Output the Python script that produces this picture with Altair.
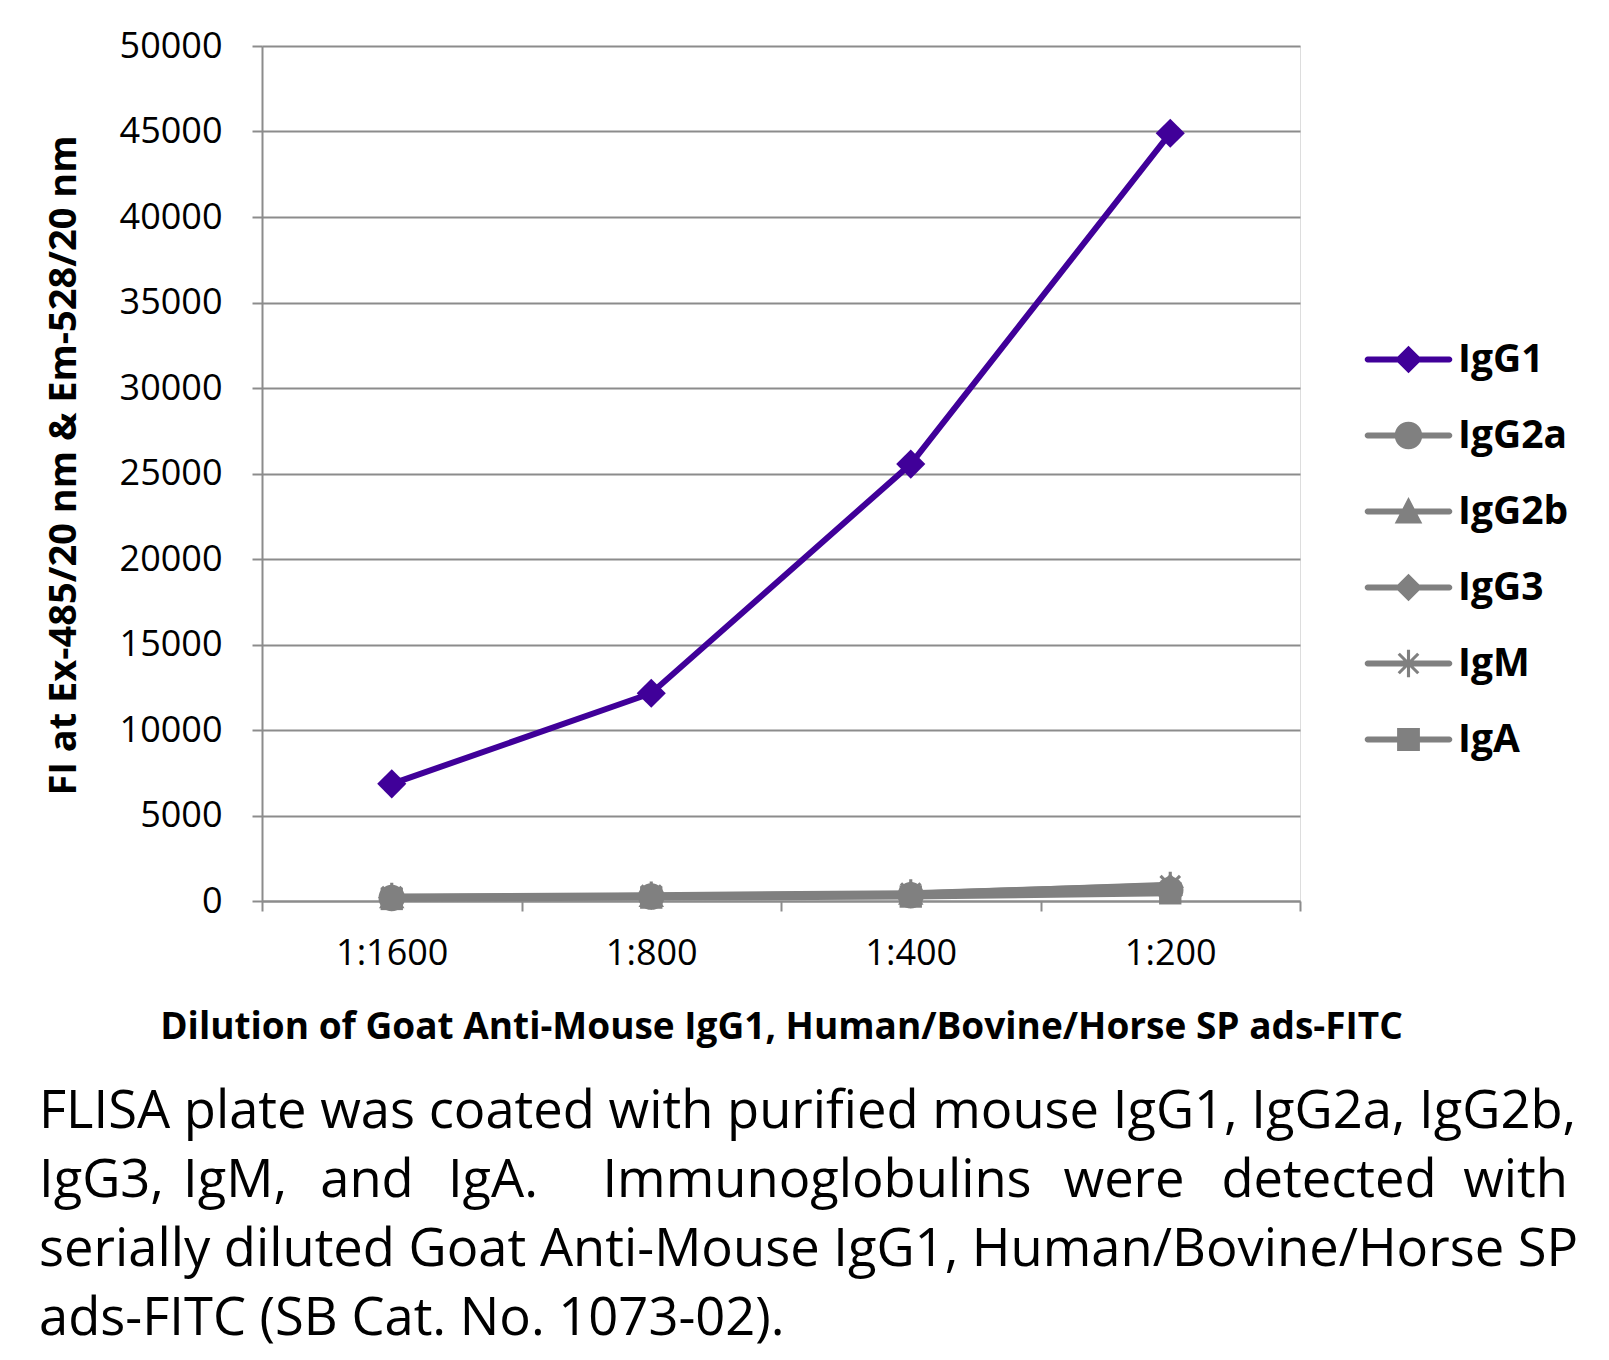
import math
import altair as alt
import pandas as pd

# ---------------- data ----------------
dilutions = ["1:1600", "1:800", "1:400", "1:200"]
series_names = ["IgG1", "IgG2a", "IgG2b", "IgG3", "IgM", "IgA"]
igg1 = [6850, 12150, 25550, 44900]
igg2a = [180, 260, 340, 650]
igg2b = [220, 300, 420, 950]
igg3 = [200, 280, 380, 800]
igm = [260, 340, 460, 900]
iga = [120, 200, 260, 450]
y_ticks = list(range(0, 50001, 5000))

x_title = "Dilution of Goat Anti-Mouse IgG1, Human/Bovine/Horse SP ads-FITC"
y_title = "FI at Ex-485/20 nm & Em-528/20 nm"
caption_line1 = "FLISA plate was coated with purified mouse IgG1, IgG2a, IgG2b,"
caption_line2_words = ["IgG3,", "IgM,", "and", "IgA.", "Immunoglobulins", "were", "detected", "with"]
caption_line3 = "serially diluted Goat Anti-Mouse IgG1, Human/Bovine/Horse SP"
caption_line4 = "ads-FITC (SB Cat. No. 1073-02)."

values = {"IgG1": igg1, "IgG2a": igg2a, "IgG2b": igg2b, "IgG3": igg3, "IgM": igm, "IgA": iga}
rows = []
for s in series_names:
    for d, v in zip(dilutions, values[s]):
        rows.append({"series": s, "dilution": d, "value": v})
df = pd.DataFrame(rows)

# ---------------- styles ----------------
PURPLE = "#400099"
GRAY = "#808080"
AXGRAY = "#8c8c8c"
colors = [PURPLE, GRAY, GRAY, GRAY, GRAY, GRAY]
FONT = "Open Sans"


def rect_path(half_len, half_w, angle_deg):
    a = math.radians(angle_deg)
    ca, sa = math.cos(a), math.sin(a)
    pts = [(-half_len, -half_w), (half_len, -half_w), (half_len, half_w), (-half_len, half_w)]
    rp = [(x * ca - y * sa, x * sa + y * ca) for x, y in pts]
    return "M" + " L".join(f"{x:.3f},{y:.3f}" for x, y in rp) + " Z"


asterisk = rect_path(1.15, 0.13, 90) + " " + rect_path(1.15, 0.13, 45) + " " + rect_path(1.15, 0.13, 135)
bar = "M-3.4,-0.25 L3.4,-0.25 A0.25,0.25 0 0 1 3.4,0.25 L-3.4,0.25 A0.25,0.25 0 0 1 -3.4,-0.25 Z"
m_diamond = "M0,-1.15 L1.15,0 L0,1.15 L-1.15,0 Z"
m_circle = "M-1.15,0 A1.15,1.15 0 0 1 1.15,0 A1.15,1.15 0 0 1 -1.15,0 Z"
m_triangle = "M0,-1.2 L1.15,1.0 L-1.15,1.0 Z"
m_square = "M-0.95,-0.95 L0.95,-0.95 L0.95,0.95 L-0.95,0.95 Z"
legend_paths = [bar + " " + m for m in [m_diamond, m_circle, m_triangle, m_diamond, asterisk, m_square]]

marker_shapes = {"IgG1": "diamond", "IgG2a": "circle", "IgG2b": "triangle-up",
                 "IgG3": "diamond", "IgM": asterisk, "IgA": "square"}
marker_sizes = {"IgG1": 850, "IgG2a": 700, "IgG2b": 650, "IgG3": 750, "IgM": 576, "IgA": 500}

# ---------------- encodings ----------------
x_enc = alt.X(
    "dilution:N", sort=dilutions, bandPosition=0.5,
    scale=alt.Scale(type="band", paddingInner=0, paddingOuter=0),
    axis=alt.Axis(
        title=x_title, titleFont=FONT, titleFontSize=37, titleFontWeight="bold", titleColor="black",
        titleX=519, titleY=137, titleBaseline="alphabetic", titleAlign="center",
        labelFont=FONT, labelFontSize=36, labelColor="black", labelAngle=0, labelPadding=25,
        tickBand="extent", tickSize=10, tickColor=AXGRAY, tickWidth=2,
        domainColor=AXGRAY, domainWidth=2, grid=False,
    ),
)
y_enc = alt.Y(
    "value:Q",
    scale=alt.Scale(domain=[0, 50000], nice=False),
    axis=alt.Axis(
        values=y_ticks, format="d",
        title=y_title, titleFont=FONT,
        titleFontSize=38, titleFontWeight="bold", titleColor="black",
        titleX=-198, titleY=419, titleAngle=-90, titleAlign="center", titleBaseline="middle",
        labelFont=FONT, labelFontSize=36, labelColor="black", labelPadding=30,
        tickSize=10, tickColor=AXGRAY, tickWidth=2, domainColor=AXGRAY, domainWidth=2,
        grid=True, gridColor=AXGRAY, gridWidth=2,
    ),
)

layers = []
# gray lines first, purple on top
for s in series_names[1:] + series_names[:1]:
    sub = df[df["series"] == s]
    c = PURPLE if s == "IgG1" else GRAY
    layers.append(alt.Chart(sub).mark_line(strokeWidth=6, color=c).encode(x=x_enc, y=y_enc))
    layers.append(
        alt.Chart(sub).mark_point(shape=marker_shapes[s], size=marker_sizes[s], filled=True,
                                  opacity=1, color=c, strokeWidth=0).encode(x=x_enc, y=y_enc)
    )

leg = alt.Legend(
    title=None, orient="none", legendX=1127, legendY=294, padding=0,
    symbolSize=576, symbolStrokeWidth=0, labelFont=FONT, labelFontSize=39,
    labelFontWeight="bold", labelColor="black", labelOffset=30, rowPadding=36,
)
legend_layer = alt.Chart(df).transform_filter("false").mark_point(
    filled=True, opacity=1, strokeWidth=0
).encode(
    shape=alt.Shape("series:N", scale=alt.Scale(domain=series_names, range=legend_paths), legend=leg),
    fill=alt.Fill("series:N", scale=alt.Scale(domain=series_names, range=colors), legend=leg),
)
layers.append(legend_layer)


def text_layer(txt, x, y, align="left", size=50):
    return alt.Chart(pd.DataFrame({"t": [txt]})).mark_text(
        align=align, baseline="alphabetic", font=FONT, fontSize=size, color="black"
    ).encode(x=alt.value(x), y=alt.value(y), text="t:N")


CAP = 52.5
layers.append(text_layer(caption_line1, -223, 1082, size=CAP))
word_x = [-223, -27, 105, 231, 555, 862, 1067, 1306]
word_align = ["left", "center", "center", "center", "center", "center", "center", "right"]
for w, wx, wa in zip(caption_line2_words, word_x, word_align):
    layers.append(text_layer(w, wx, 1151, align=wa, size=CAP))
layers.append(text_layer(caption_line3, -223, 1220, size=CAP))
layers.append(text_layer(caption_line4, -223, 1289, size=CAP))

chart = alt.layer(*layers).properties(
    width=1038, height=855,
    autosize=alt.AutoSizeParams(type="none"),
    padding={"left": 254, "top": 38, "right": 295, "bottom": 451},
).configure_view(stroke="transparent", strokeWidth=0).configure(background="white")

chart.save("out.html", embed_options={"renderer": "svg", "actions": False})
